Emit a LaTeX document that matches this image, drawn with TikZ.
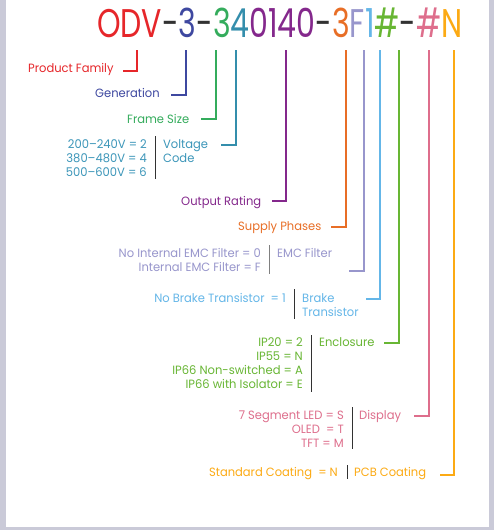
\documentclass[tikz,border=0pt]{standalone}
\usepackage{fontspec}
\setmainfont{Poppins}[FakeStretch=0.96]
\newfontfamily\titlefont{Poppins}[FakeStretch=0.75]
\definecolor{cRed}{RGB}{230,38,42}
\definecolor{cBlue}{RGB}{62,72,160}
\definecolor{cGreen}{RGB}{52,172,92}
\definecolor{cTeal}{RGB}{52,142,172}
\definecolor{cTealT}{RGB}{60,150,185}
\definecolor{cPurple}{RGB}{132,40,140}
\definecolor{cOrange}{RGB}{232,110,38}
\definecolor{cLav}{RGB}{152,150,204}
\definecolor{cLBlue}{RGB}{100,182,232}
\definecolor{cGreenB}{RGB}{104,182,52}
\definecolor{cPink}{RGB}{222,110,140}
\definecolor{cGold}{RGB}{252,170,20}
\definecolor{cDash}{RGB}{50,50,50}
\definecolor{cFrame}{RGB}{202,202,216}
\tikzset{
  lbl/.style={inner sep=0pt,font=\fontsize{12}{14.4}\selectfont},
  lw/.style={lbl,anchor=base west},
  le/.style={lbl,anchor=base east},
  lead/.style={line width=2.6pt,line join=miter},
  sepline/.style={line width=1pt,draw=cDash},
}
\begin{document}
\begin{tikzpicture}[x=1pt,y=-1pt]
\fill[cFrame] (0,0) rectangle (494,530);
\fill[white] (6,0) rectangle (489,527);
\useasboundingbox (0,0) rectangle (494,530);
% title
\node[inner sep=0pt,anchor=base west,font=\titlefont\fontsize{40}{40}\selectfont] (title) at (97,37.5)
 {\textcolor{cRed}{ODV}\textcolor{cDash}{-}\textcolor{cBlue}{3}\textcolor{cDash}{-}\textcolor{cGreen}{3}\textcolor{cTeal}{4}\textcolor{cPurple}{0140}\textcolor{cDash}{-}\textcolor{cOrange}{3}\textcolor{cLav}{F}\textcolor{cLBlue}{1}\textcolor{cGreenB}{\#}\textcolor{cDash}{-}\textcolor{cPink}{\#}\textcolor{cGold}{N}};
% connector tops
\coordinate (t1) at (137,50);
\coordinate (t2) at (186,50);
\coordinate (t3) at (216,50);
\coordinate (t4) at (236,50);
\coordinate (t5) at (286,50);
\coordinate (t6) at (346,50);
\coordinate (t7) at (364,50);
\coordinate (t8) at (380,50);
\coordinate (t9) at (399,50);
\coordinate (t10) at (429,50);
\coordinate (t11) at (454,50);
% connector ends
\coordinate (e1) at (123,71);
\coordinate (e2) at (171,95);
\coordinate (e3) at (201,119);
\coordinate (e4) at (221,145);
\coordinate (e5) at (272,201);
\coordinate (e6) at (331,227);
\coordinate (e7) at (349,271);
\coordinate (e8) at (366,299);
\coordinate (e9) at (384,343);
\coordinate (e10) at (414,416);
\coordinate (e11) at (440,475);
% labels
\node[lw,text=cRed] (pf) at (28,72) {Product Family};
\node[lw,text=cBlue] (gen) at (95,97) {Generation};
\node[lw,text=cGreen] (fs) at (127,123) {Frame Size};
\node[le,text=cTealT] (vv1) at (147,148) {200–240V = 2};
\node[le,text=cTealT] (vv2) at (147,162.3) {380–480V = 4};
\node[le,text=cTealT] (vv3) at (147,176.6) {500–600V = 6};
\node[lw,text=cTealT] (vc1) at (163,148) {Voltage};
\node[lw,text=cTealT] (vc2) at (163,162.3) {Code};
\node[lw,text=cPurple] (or) at (181,205) {Output Rating};
\node[lw,text=cOrange] (sp) at (238,230) {Supply Phases};
\node[le,text=cLav] (em1) at (261,257) {No Internal EMC Filter = 0};
\node[le,text=cLav] (em2) at (261,271.3) {Internal EMC Filter = F};
\node[lw,text=cLav] (emc) at (277,257) {EMC Filter};
\node[le,text=cLBlue] (brv) at (286,302) {No Brake Transistor~~= 1};
\node[lw,text=cLBlue] (br1) at (302,302) {Brake};
\node[lw,text=cLBlue] (br2) at (302,316.3) {Transistor};
\node[le,text=cGreenB] (en1) at (303,346) {IP20 = 2};
\node[le,text=cGreenB] (en2) at (303,360.3) {IP55 = N};
\node[le,text=cGreenB] (en3) at (303,374.6) {IP66 Non-switched = A};
\node[le,text=cGreenB] (en4) at (303,388.9) {IP66 with Isolator = E};
\node[lw,text=cGreenB] (enc) at (319,346) {Enclosure};
\node[le,text=cPink] (ds1) at (344,419) {7 Segment LED = S};
\node[le,text=cPink] (ds2) at (344,433.3) {OLED~~= T};
\node[le,text=cPink] (ds3) at (344,447.6) {TFT = M};
\node[lw,text=cPink] (dsp) at (359,419) {Display};
\node[le,text=cGold] (pcv) at (338,476) {Standard Coating~~= N};
\node[lw,text=cGold] (pcb) at (354,476) {PCB Coating};
% separators
\draw[sepline] (155,136) -- (155,179);
\draw[sepline,draw=gray] (269,245) -- (269,274);
\draw[sepline] (294,289) -- (294,319);
\draw[sepline] (311,335) -- (311,392);
\draw[sepline] (352,407) -- (352,449);
\draw[sepline] (347,465) -- (347,479);
% leads
\draw[lead,cRed] (t1) |- (e1);
\draw[lead,cBlue] (t2) |- (e2);
\draw[lead,cGreen] (t3) |- (e3);
\draw[lead,cTeal] (t4) |- (e4);
\draw[lead,cPurple] (t5) |- (e5);
\draw[lead,cOrange] (t6) |- (e6);
\draw[lead,cLav] (t7) |- (e7);
\draw[lead,cLBlue] (t8) |- (e8);
\draw[lead,cGreenB] (t9) |- (e9);
\draw[lead,cPink] (t10) |- (e10);
\draw[lead,cGold] (t11) |- (e11);
\end{tikzpicture}
\end{document}
